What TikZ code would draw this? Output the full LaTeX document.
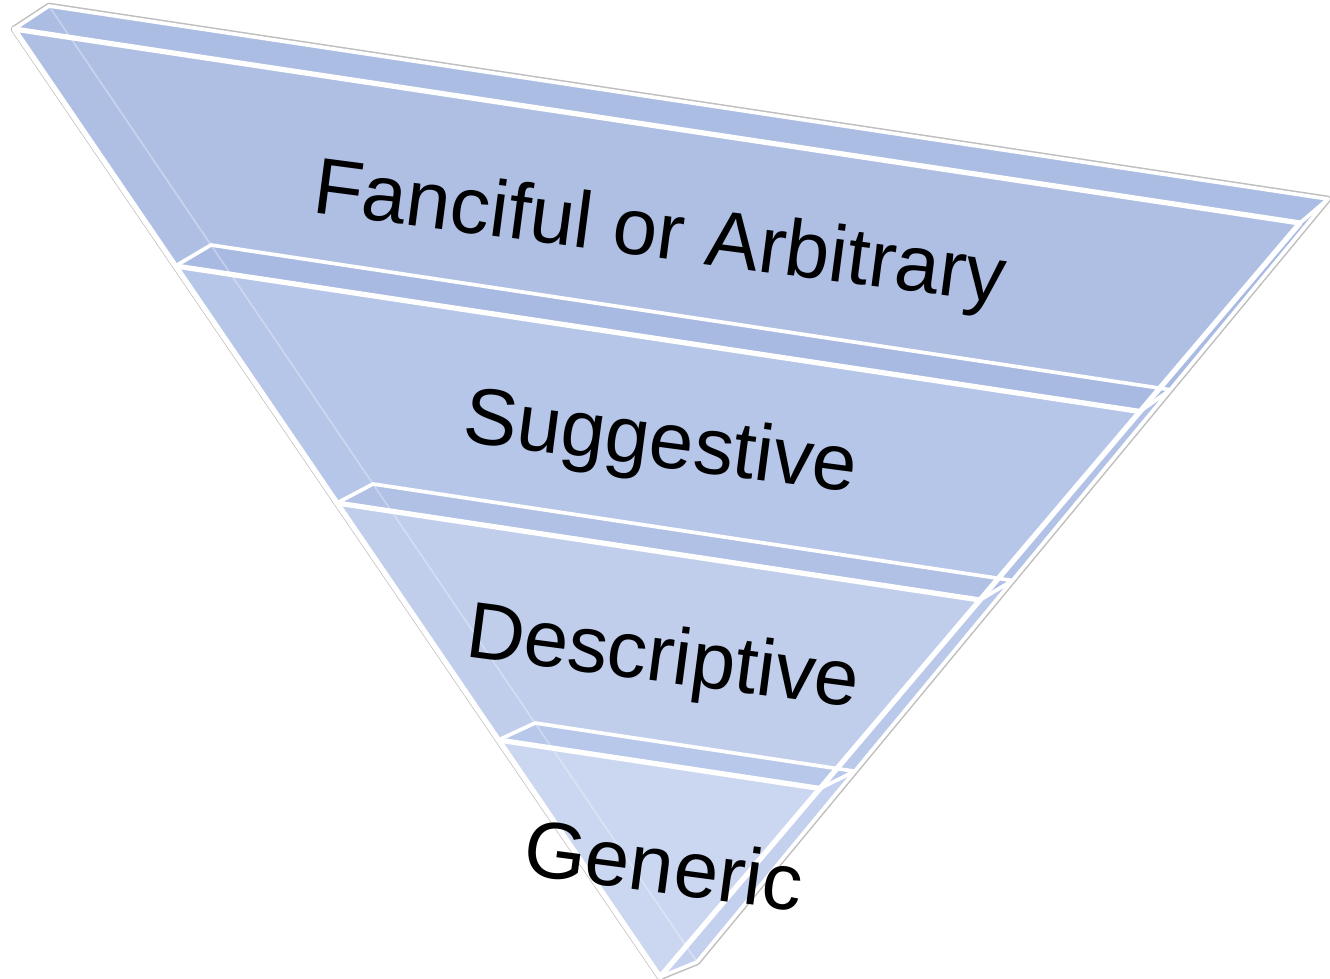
\documentclass[tikz,border=0pt]{standalone}
\usepackage{fontspec}
\setmainfont{Liberation Sans}
\usetikzlibrary{calc}
\definecolor{topband}{RGB}{172,189,228}
\definecolor{face1}{RGB}{175,191,228}
\definecolor{face2}{RGB}{182,198,232}
\definecolor{face3}{RGB}{192,206,236}
\definecolor{face4}{RGB}{203,215,240}
\definecolor{band2}{RGB}{168,185,226}
\definecolor{band3}{RGB}{176,193,229}
\definecolor{band4}{RGB}{184,200,234}
\definecolor{rf1}{RGB}{170,187,227}
\definecolor{rf2}{RGB}{178,194,230}
\definecolor{rf3}{RGB}{186,201,234}
\definecolor{rf4}{RGB}{196,209,238}
\definecolor{edgegray}{RGB}{190,190,190}
\tikzset{
  frontline/.style={white, line width=3pt, line cap=round, line join=round},
  backline/.style={white, line width=2.1pt, line cap=round, line join=round},
  ghostline/.style={white, opacity=0.3, line width=1pt},
  lbl/.style={anchor=base, inner sep=0pt, text=black, rotate=-7.5,
    font=\fontsize{45.5}{50}\selectfont}
}
\begin{document}
\begin{tikzpicture}[x=0.02cm,y=-0.02cm]
\useasboundingbox (0,0) rectangle (1330,979);
% front triangle and back triangle
\coordinate (FL) at (14,29);
\coordinate (FR) at (1300,223);
\coordinate (FB) at (660,977);
\coordinate (BL) at (49,6);
\coordinate (BR) at (1328,199);
\coordinate (BB) at (697,962);
\coordinate (FL1) at (FL);
\coordinate (FR1) at (FR);
\coordinate (BL1) at (BL);
\coordinate (BR1) at (BR);
\foreach \t/\n in {0.25/2,0.5/3,0.75/4}{
  \coordinate (FL\n) at ($(FL)!\t!(FB)$);
  \coordinate (FR\n) at ($(FR)!\t!(FB)$);
  \coordinate (BL\n) at ($(BL)!\t!(BB)$);
  \coordinate (BR\n) at ($(BR)!\t!(BB)$);
}
\coordinate (FL5) at (FB);
\coordinate (FR5) at (FB);
\coordinate (BR5) at (BB);
% gray outer rim
\draw[edgegray, line width=3.8pt, line join=round] (BL) -- (BR) -- (BB) -- (FB) -- (FL) -- cycle;
% silhouette base
\fill[face1] (BL) -- (BR) -- (BB) -- (FB) -- (FL) -- cycle;
% front faces of the layers
\fill[face1] (FL1) -- (FR1) -- (FR2) -- (FL2) -- cycle;
\fill[face2] (FL2) -- (FR2) -- (FR3) -- (FL3) -- cycle;
\fill[face3] (FL3) -- (FR3) -- (FR4) -- (FL4) -- cycle;
\fill[face4] (FL4) -- (FR4) -- (FB) -- cycle;
% right side face slices
\fill[rf1] (FR1) -- (BR1) -- (BR2) -- (FR2) -- cycle;
\fill[rf2] (FR2) -- (BR2) -- (BR3) -- (FR3) -- cycle;
\fill[rf3] (FR3) -- (BR3) -- (BR4) -- (FR4) -- cycle;
\fill[rf4] (FR4) -- (BR4) -- (BB) -- (FB) -- cycle;
% top face
\fill[topband] (BL) -- (BR) -- (FR) -- (FL) -- cycle;
% top faces (bands) of the lower layers
\fill[band2] (BL2) -- (BR2) -- (FR2) -- (FL2) -- cycle;
\fill[band3] (BL3) -- (BR3) -- (FR3) -- (FL3) -- cycle;
\fill[band4] (BL4) -- (BR4) -- (FR4) -- (FL4) -- cycle;
% hidden back-left edge seen through
\draw[ghostline] (BL) -- (BB);
% outer white edges
\draw[backline] (FL) -- (BL) -- (BR) -- (BB) -- (FB);
\draw[frontline] (FL) -- (FB) -- (FR) -- cycle;
% band edges
\foreach \n in {2,3,4}{
  \draw[backline] (FL\n) -- (BL\n) -- (BR\n) -- (FR\n);
  \draw[frontline] (FL\n) -- (FR\n);
}
\draw[backline] (FR) -- (BR);
% labels
\node[lbl] (fanciful) at (657,258) {Fanciful or Arbitrary};
\node[lbl] (suggestive) at (658,467) {Suggestive};
\node[lbl] (descriptive) at (660,682) {Descriptive};
\node[lbl] (generic) at (660,893) {Generic};
\end{tikzpicture}
\end{document}
